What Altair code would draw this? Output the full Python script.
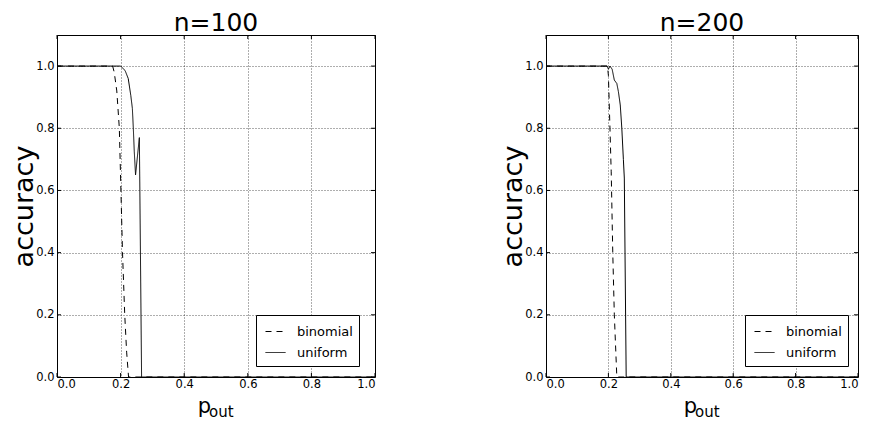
import altair as alt
import pandas as pd

# ---- data ----
x_ticks = [0.0, 0.2, 0.4, 0.6, 0.8, 1.0]
y_ticks = [0.0, 0.2, 0.4, 0.6, 0.8, 1.0]
series_names = ["binomial", "uniform"]

# n = 100
b100_x = [0.0, 0.175, 0.180, 0.188, 0.196, 0.201, 0.206, 0.213, 0.219, 0.225, 1.0]
b100_y = [1.0, 1.0, 0.98, 0.92, 0.80, 0.60, 0.40, 0.20, 0.08, 0.0, 0.0]
u100_x = [0.0, 0.200, 0.214, 0.224, 0.232, 0.237, 0.240, 0.243, 0.247, 0.259, 0.266, 1.0]
u100_y = [1.0, 1.0, 0.986, 0.96, 0.906, 0.864, 0.80, 0.725, 0.65, 0.77, 0.0, 0.0]

# n = 200
b200_x = [0.0, 0.197, 0.200, 0.205, 0.209, 0.214, 0.219, 0.227, 1.0]
b200_y = [1.0, 1.0, 0.97, 0.80, 0.66, 0.40, 0.20, 0.0, 0.0]
u200_x = [0.0, 0.196, 0.200, 0.205, 0.212, 0.219, 0.227, 0.232, 0.238, 0.243, 0.248, 0.251, 0.257, 1.0]
u200_y = [1.0, 1.0, 0.99, 1.0, 0.99, 0.955, 0.944, 0.918, 0.875, 0.80, 0.70, 0.64, 0.0, 0.0]

FONT = "DejaVu Sans"
H = 342


def make_df(bx, by, ux, uy):
    rows = []
    for i, (a, b) in enumerate(zip(bx, by)):
        rows.append({"x": a, "y": b, "series": "binomial", "i": i})
    for i, (a, b) in enumerate(zip(ux, uy)):
        rows.append({"x": a, "y": b, "series": "uniform", "i": i})
    return pd.DataFrame(rows)


def panel(df, title, W):
    xs = alt.Scale(domain=[0, 1], nice=False, zero=False)
    ys = alt.Scale(domain=[0, 1.1], nice=False, zero=False)
    lines = alt.Chart(df).mark_line(color="black", strokeWidth=1, clip=True).encode(
        x=alt.X("x:Q", scale=xs,
                axis=alt.Axis(values=x_ticks, format=".1f", title=None, labelPadding=1)),
        y=alt.Y("y:Q", scale=ys,
                axis=alt.Axis(values=y_ticks, format=".1f", title="accuracy",
                              titlePadding=-3, labelPadding=3)),
        strokeDash=alt.StrokeDash(
            "series:N",
            scale=alt.Scale(domain=series_names, range=[[6, 5], [1, 0]]),
            legend=alt.Legend(
                orient="none", legendX=199, legendY=280, title=None,
                symbolType="stroke", symbolStrokeColor="black",
                symbolStrokeWidth=1, symbolSize=400, symbolOffset=3,
                labelFontSize=13, labelFont=FONT, labelColor="black",
                fillColor="white", strokeColor="black",
                padding=6, labelOffset=11, rowPadding=3,
            ),
        ),
        order="i:Q",
    )
    xt = pd.DataFrame({"x": x_ticks})
    yt = pd.DataFrame({"y": y_ticks})
    tb = alt.Chart(xt).mark_rule(color="black", strokeWidth=1).encode(
        x="x:Q", y=alt.value(H), y2=alt.value(H - 4))
    tt = alt.Chart(xt).mark_rule(color="black", strokeWidth=1).encode(
        x="x:Q", y=alt.value(0), y2=alt.value(4))
    tl = alt.Chart(yt).mark_rule(color="black", strokeWidth=1).encode(
        y="y:Q", x=alt.value(0), x2=alt.value(4))
    tr = alt.Chart(yt).mark_rule(color="black", strokeWidth=1).encode(
        y="y:Q", x=alt.value(W), x2=alt.value(W - 4))
    cx = W / 2
    p_txt = alt.Chart(pd.DataFrame({"t": ["p"]})).mark_text(
        font=FONT, fontSize=21, align="right", baseline="alphabetic", color="black"
    ).encode(x=alt.value(cx - 5), y=alt.value(H + 36), text="t:N")
    out_txt = alt.Chart(pd.DataFrame({"t": ["out"]})).mark_text(
        font=FONT, fontSize=15, align="left", baseline="alphabetic", color="black"
    ).encode(x=alt.value(cx - 7), y=alt.value(H + 40), text="t:N")
    return alt.layer(lines, tb, tt, tl, tr, p_txt, out_txt).properties(
        width=W, height=H,
        title=alt.TitleParams(title, fontSize=25, font=FONT, fontWeight="normal",
                              color="black", offset=-1),
    )


df100 = make_df(b100_x, b100_y, u100_x, u100_y)
df200 = make_df(b200_x, b200_y, u200_x, u200_y)

chart = alt.hconcat(
    panel(df100, "n=100", 318),
    panel(df200, "n=200", 312),
    spacing=123,
).resolve_scale(strokeDash="independent").resolve_legend(
    strokeDash="independent"
).configure(
    padding={"left": 2, "top": 2, "right": 0, "bottom": 0},
    background="white",
).configure_view(
    stroke="black", strokeWidth=1,
).configure_axis(
    labelFont=FONT, labelFontSize=11.5, labelColor="black",
    titleFont=FONT, titleFontSize=27, titleFontWeight="normal", titleColor="black",
    domain=False, ticks=False,
    grid=True, gridColor="black", gridDash=[1, 2], gridWidth=0.8, gridOpacity=0.8,
)

chart.save("out.html", embed_options={"renderer": "svg", "actions": False})
